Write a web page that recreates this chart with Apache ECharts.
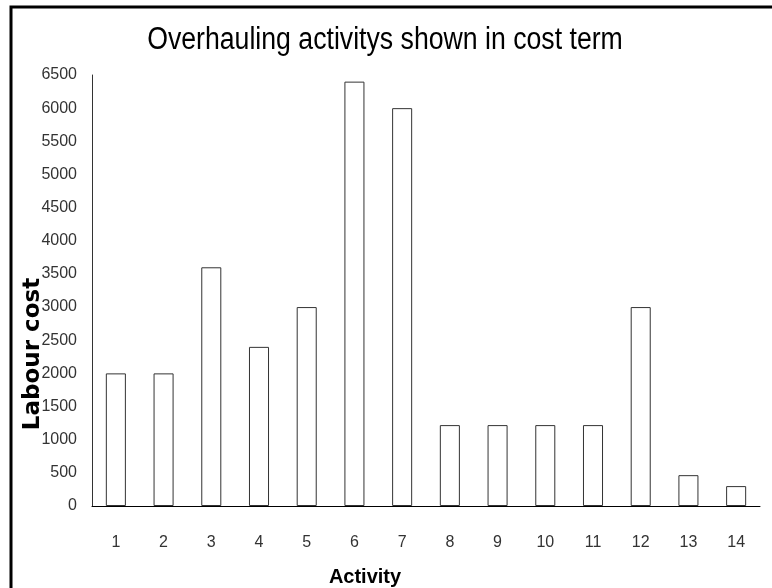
<!DOCTYPE html>
<html>
<head>
<meta charset="utf-8">
<script src="https://cdn.jsdelivr.net/npm/echarts@6/dist/echarts.min.js"></script>
<style>
  html, body { margin: 0; padding: 0; background: #fff; }
  #chart { width: 772px; height: 588px; }
</style>
</head>
<body>
<div id="chart"></div>
<script>
// Labour cost per overhauling activity
const activities = ['1', '2', '3', '4', '5', '6', '7', '8', '9', '10', '11', '12', '13', '14'];
const labourCost = [2000, 2000, 3600, 2400, 3000, 6400, 6000, 1220, 1220, 1220, 1220, 3000, 465, 300];
const costTicks = { min: 0, max: 6500, interval: 500 };

const sans = '"Liberation Sans", Arial, sans-serif';

const chart = echarts.init(document.getElementById('chart'), null, { renderer: 'canvas' });
chart.setOption({
  backgroundColor: '#fff',
  animation: false,
  grid: { left: 92, top: 75, right: 12, bottom: 82, outerBoundsMode: 'none', containLabel: false },
  xAxis: {
    type: 'category',
    data: activities,
    axisLine: { lineStyle: { color: '#000', width: 1 } },
    axisTick: { show: false },
    axisLabel: { fontFamily: sans, fontSize: 16, color: '#333', margin: 29 }
  },
  yAxis: {
    type: 'value',
    min: costTicks.min,
    max: costTicks.max,
    interval: costTicks.interval,
    axisLine: { show: true, lineStyle: { color: '#333', width: 1 } },
    axisTick: { show: false },
    splitLine: { show: false },
    axisLabel: { fontFamily: sans, fontSize: 16, color: '#333', margin: 15, formatter: v => String(v) }
  },
  series: [{
    type: 'bar',
    data: labourCost,
    barWidth: '42%',
    itemStyle: { color: '#fff', borderColor: '#333', borderWidth: 1 }
  }],
  graphic: [
    {
      // outer frame
      type: 'rect',
      silent: true,
      shape: { x: 11, y: 7, width: 800, height: 620 },
      style: { fill: 'none', stroke: '#000', lineWidth: 3 }
    },
    {
      // chart title, set in a condensed face
      type: 'text',
      silent: true,
      x: 385, y: 40,
      scaleX: 0.86,
      style: {
        text: 'Overhauling activitys shown in cost term',
        font: '31px "Liberation Sans", Arial, sans-serif',
        fill: '#000', align: 'center', verticalAlign: 'middle'
      }
    },
    {
      // y-axis title
      type: 'text',
      silent: true,
      x: 33, y: 354,
      rotation: Math.PI / 2,
      style: {
        text: 'Labour cost',
        font: 'bold 23px "DejaVu Sans", sans-serif',
        fill: '#000', align: 'center', verticalAlign: 'middle'
      }
    },
    {
      // x-axis title
      type: 'text',
      silent: true,
      x: 365, y: 577,
      style: {
        text: 'Activity',
        font: 'bold 20px "Liberation Sans", Arial, sans-serif',
        fill: '#000', align: 'center', verticalAlign: 'middle'
      }
    }
  ]
});
</script>
</body>
</html>
